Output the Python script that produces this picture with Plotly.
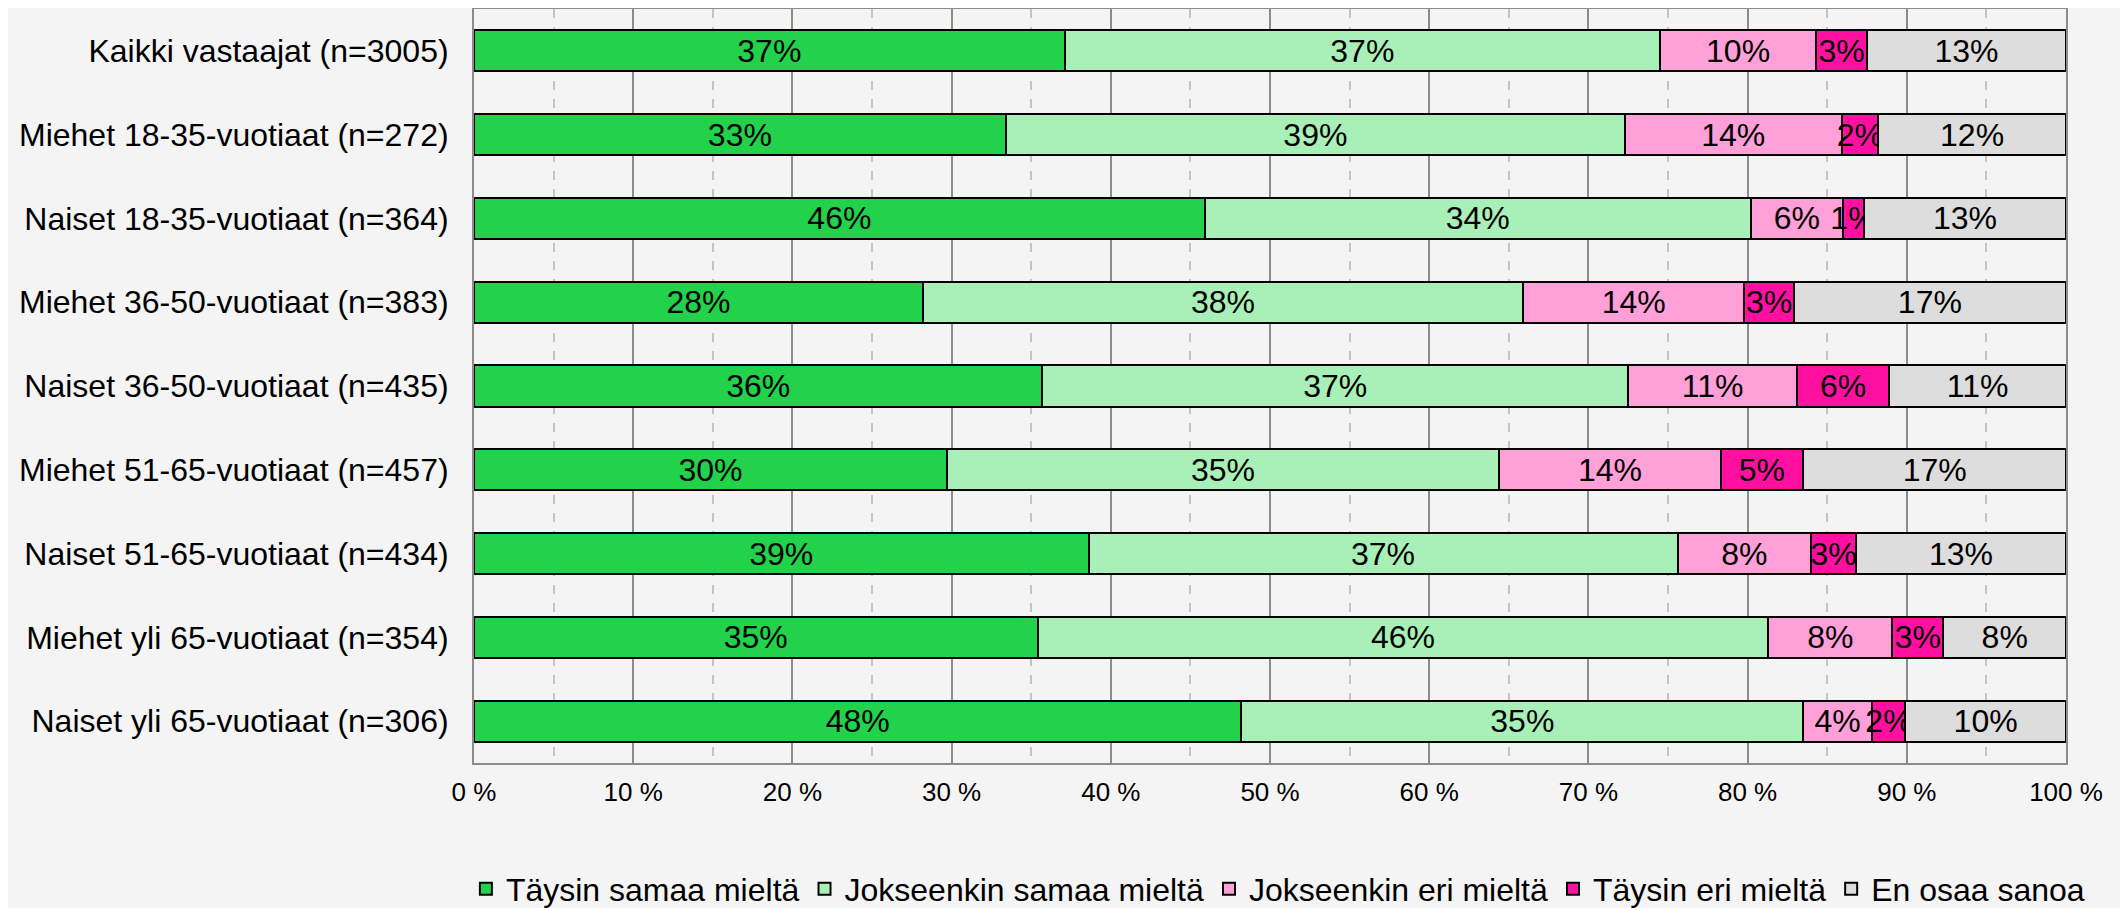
import plotly.graph_objects as go

ryhmat = [
    "Kaikki vastaajat (n=3005)",
    "Miehet 18-35-vuotiaat (n=272)",
    "Naiset 18-35-vuotiaat (n=364)",
    "Miehet 36-50-vuotiaat (n=383)",
    "Naiset 36-50-vuotiaat (n=435)",
    "Miehet 51-65-vuotiaat (n=457)",
    "Naiset 51-65-vuotiaat (n=434)",
    "Miehet yli 65-vuotiaat (n=354)",
    "Naiset yli 65-vuotiaat (n=306)",
]

taysin_samaa = [37.1, 33.4, 45.9, 28.2, 35.7, 29.7, 38.6, 35.4, 48.2]
jokseenkin_samaa = [37.4, 38.9, 34.3, 37.7, 36.8, 34.7, 37.0, 45.9, 35.3]
jokseenkin_eri = [9.8, 13.6, 5.8, 13.9, 10.6, 13.9, 8.4, 7.8, 4.3]
taysin_eri = [3.2, 2.3, 1.3, 3.1, 5.8, 5.2, 2.8, 3.2, 2.1]
en_osaa = [12.5, 11.8, 12.7, 17.1, 11.1, 16.5, 13.2, 7.7, 10.1]

sarjat = [
    ("Täysin samaa mieltä", taysin_samaa, "#22D24B"),
    ("Jokseenkin samaa mieltä", jokseenkin_samaa, "#A8F0B8"),
    ("Jokseenkin eri mieltä", jokseenkin_eri, "#FFA0D8"),
    ("Täysin eri mieltä", taysin_eri, "#FF10A0"),
    ("En osaa sanoa", en_osaa, "#DDDDDD"),
]

fig = go.Figure()
for nimi, arvot, vari in sarjat:
    fig.add_trace(go.Bar(
        y=ryhmat, x=arvot, name=nimi, orientation="h",
        marker=dict(color=vari, line=dict(color="black", width=2)),
        texttemplate="%{x:.0f}%", textposition="inside",
        insidetextanchor="middle", textangle=0,
        textfont=dict(color="black", size=32),
    ))

# sivun body-marginaali (8 px) on huomioitu; kuvan alareuna jää näkymän ulkopuolelle,
# jotta selite mahtuu ilman että piirtoalue kutistuu
fig.update_layout(
    barmode="stack",
    bargap=0.51,
    width=2120, height=930,
    margin=dict(l=466, r=62, t=1, b=175),
    paper_bgcolor="#F4F4F4",
    plot_bgcolor="#F4F4F4",
    font=dict(family="Liberation Sans, Arial", color="black", size=32),
    uniformtext=dict(mode="show", minsize=32),
    legend=dict(orientation="h", x=1.015, xanchor="right", y=-0.167, yanchor="middle",
                font=dict(size=32), itemwidth=30, traceorder="normal"),
    xaxis=dict(
        range=[0, 100], dtick=10, ticksuffix=" %",
        showgrid=True, gridcolor="#8C8C8C", gridwidth=1.5,
        minor=dict(dtick=5, showgrid=True, gridcolor="#C4C4C4", griddash="dash", gridwidth=1.5),
        showline=True, linecolor="#8C8C8C", linewidth=2, mirror=True,
        tickfont=dict(size=26), ticklabelstandoff=5, zeroline=False,
        automargin=False,
    ),
    yaxis=dict(
        autorange="reversed", showline=True, linecolor="#8C8C8C", linewidth=2, mirror=True,
        tickfont=dict(size=32), ticklabelstandoff=17, automargin=False,
    ),
)

fig.write_html("out.html")
